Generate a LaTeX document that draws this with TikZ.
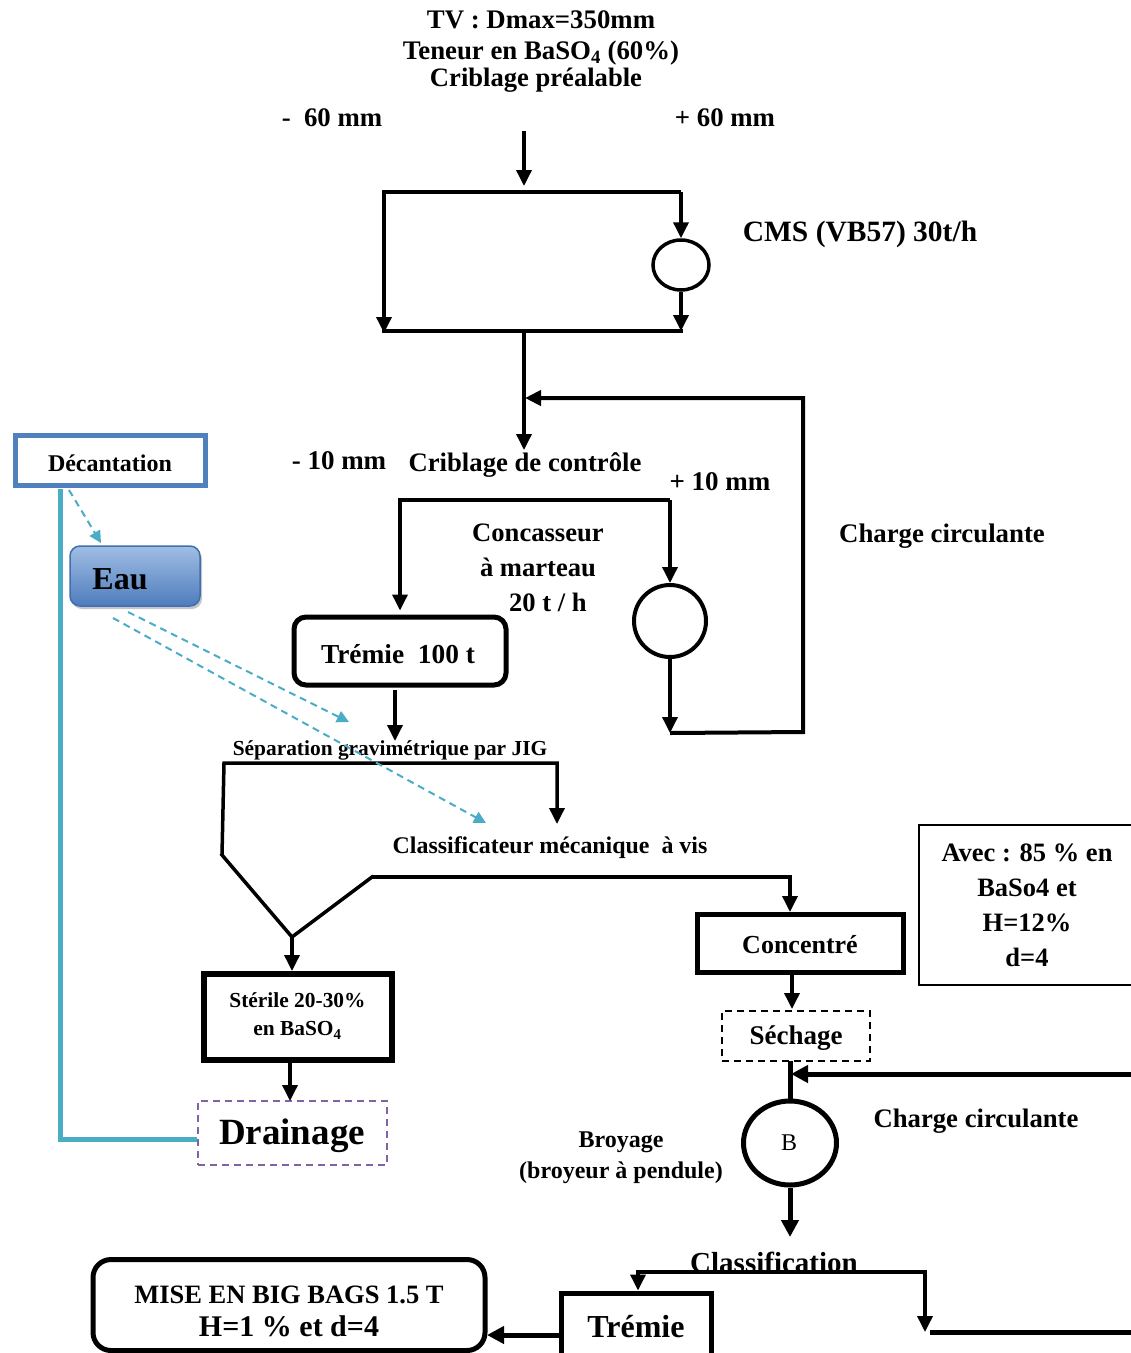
\documentclass[tikz,border=0pt]{standalone}
\usepackage{fontspec}
\setmainfont{Liberation Serif}
\usetikzlibrary{arrows.meta,shapes.geometric,shadows}
\definecolor{tealline}{RGB}{75,172,198}
\definecolor{decblue}{RGB}{79,129,189}
\definecolor{eautop}{RGB}{160,190,228}
\definecolor{eaubot}{RGB}{78,124,188}
\definecolor{eauedge}{RGB}{65,110,175}
\definecolor{drainpurple}{RGB}{128,100,162}

\tikzset{
  txt/.style={font=\bfseries\fontsize{#1}{#1}\selectfont, inner sep=0pt},
  mtxt/.style 2 args={font=\bfseries\fontsize{#1}{#2}\selectfont, inner sep=0pt, align=center},
  flow/.style={line width=3.5pt, line join=miter, -{Triangle[length=16pt,width=15pt]}},
  bigflow/.style={line width=5pt, line join=miter, -{Triangle[length=17pt,width=17pt]}},
  plain/.style={line width=3.5pt, line join=miter, line cap=rect},
  boxthick/.style={draw, line width=5pt, inner sep=0pt},
  water/.style={draw=tealline, line width=2pt, dash pattern=on 7pt off 5pt,
    -{Triangle[length=12pt,width=12pt]}},
}

\begin{document}
\begin{tikzpicture}[x=1pt,y=-1pt]
\useasboundingbox (0,0) rectangle (1131,1353);

% ---- header ----
\node[txt=26.8] (tv)   at (541,20)  {TV : Dmax=350mm};
\node[txt=26.8] (ten)  at (541,53)  {Teneur en BaSO\textsubscript{4} (60\%)};
\node[txt=26.6] (crib) at (536,80)  {Criblage préalable};
\node[txt=26.8] (m60)  at (332,118) {-\ \ 60 mm};
\node[txt=26.8] (p60)  at (725,118) {+ 60 mm};
\node[txt=29.5] (cmsl) at (860,234) {CMS (VB57) 30t/h};

% ---- pre-screening ----
\coordinate (in0) at (524,131);
\coordinate (in1) at (524,186);
\coordinate (a1) at (384,192);
\coordinate (a2) at (681,192);
\coordinate (b1) at (384,333);
\coordinate (b2) at (681,331);
\coordinate (b1r) at (384,331);
\node[draw, ellipse, line width=3.5pt, minimum width=56pt, minimum height=50pt, inner sep=0pt] (cms) at (681,265) {};
\draw[flow] (in0) -- (in1);
\draw[flow] (a2) -- (a1) -- (b1);
\draw[flow] (a2) -- (cms.north);
\draw[flow] (cms.south) -- (b2);
\draw[plain] (b1r) -- (b2);

% ---- control screening ----
\coordinate (c1) at (524,331);
\coordinate (c2) at (524,450);
\draw[flow] (c1) -- (c2);
\node[txt=27] (m10)  at (339,461) {- 10 mm};
\node[txt=26.7] (ctrl) at (525,465) {Criblage de contrôle};
\node[txt=27] (p10)  at (720,482) {+ 10 mm};
\node[mtxt={26.6}{35}] (conc) at (538,568) {Concasseur\\à marteau\\\ \ \ 20 t / h};
\node[txt=26.8] (cc1)  at (942,536) {Charge circulante};

\coordinate (s1) at (400,500);
\coordinate (s2) at (670,500);
\node[draw, circle, line width=4pt, minimum size=72pt, inner sep=0pt] (crush) at (670,621) {};
\coordinate (l1) at (670,733);
\coordinate (l2) at (803,732);
\coordinate (l3) at (803,398);
\coordinate (l4) at (525,398);
\draw[flow] (crush.south) -- (l1);
\draw[plain, line width=4pt, -{Triangle[length=16pt,width=15pt]}, line cap=butt] (l1) -- (l2) -- (l3) -- (l4);

\node[boxthick, rounded corners=12pt, minimum width=212pt, minimum height=68pt] (trem) at (400,651) {};
\node[txt=27.4] (tremt) at (398,654) {Trémie\ \ 100 t};
\draw[flow] (s2) -- (s1) -- ([yshift=4pt]trem.north);
\draw[flow] (s2) -- (crush.north);

% ---- water circuit ----
\node[draw=decblue, line width=5pt, minimum width=190pt, minimum height=50pt, inner sep=0pt] (dec) at (110.5,460.5) {};
\node[txt=24] (dect) at (110,463) {Décantation};
\node[draw=eauedge, line width=1.5pt, rounded corners=10pt, top color=eautop, bottom color=eaubot,
      minimum width=130pt, minimum height=60pt, inner sep=0pt,
      drop shadow={opacity=0.45, shadow xshift=2pt, shadow yshift=-3pt}] (eau) at (135,576) {};
\node[txt=32] (eaut) at (120,579) {Eau};

% ---- jig ----
\coordinate (t0) at (395,690);
\coordinate (t1) at (395,741);
\draw[flow] (t0) -- (t1);
\node[txt=21.4] (jigt) at (390,750) {Séparation gravimétrique par JIG};
\coordinate (j1) at (224,763);
\coordinate (j2) at (557,763);
\coordinate (j3) at (557,824);
\coordinate (j4) at (222,855);
\coordinate (j5) at (292,937);
\coordinate (j6) at (372,877);
\coordinate (j7) at (790,877);
\draw[flow] (j4) -- (j1) -- (j2) -- (j3);
\draw[plain] (j4) -- (j5) -- (j6);
\node[txt=23.9] (clas) at (550,848) {Classificateur mécanique\ \ à vis};

\node[boxthick, minimum width=206pt, minimum height=58pt] (concbox) at (800,943.5) {};
\node[txt=26] (conct) at (800,945) {Concentré};
\draw[flow] (j6) -- (j7) -- (j7 |- concbox.north);

\node[draw, line width=1.5pt, minimum width=222pt, minimum height=160pt, inner sep=0pt] (avec) at (1030,905) {};
\node[mtxt={26.5}{35}] (avect) at (1027,905) {Avec : 85 \% en\\BaSo4 et\\H=12\%\\d=4};

\node[boxthick, line width=6pt, minimum width=188pt, minimum height=86pt] (ster) at (297.5,1017) {};
\node[mtxt={21.4}{28}] (stert) at (297.5,1016) {Stérile 20-30\%\\en BaSO\textsubscript{4}};
\coordinate (j5b) at (292,971);
\draw[flow] (j5) -- (j5b);

\node[draw=drainpurple, line width=2pt, dash pattern=on 7pt off 5pt, minimum width=189pt, minimum height=64pt, inner sep=0pt] (drain) at (292.5,1133) {};
\node[txt=37] (draint) at (292,1136) {Drainage};
\coordinate (d0) at (290,1062);
\coordinate (d1) at (290,1101);
\draw[flow] (d0) -- (d1);

% water lines
\coordinate (w0) at (60,489);
\coordinate (w1) at (60,1139);
\draw[tealline, line width=5pt] (w0) -- (w1) -- (w1 -| drain.west);
\coordinate (wd0) at (69,490);
\coordinate (wd1) at (101,543);
\draw[water] (wd0) -- (wd1);
\coordinate (we0) at (128,612);
\coordinate (we1) at (349,722);
\coordinate (we2) at (113,618);
\coordinate (we3) at (486,823);
\draw[water] (we0) -- (we1);
\draw[water] (we2) -- (we3);

% ---- drying and grinding ----
\coordinate (k0) at (792,973);
\coordinate (k1) at (792,1009);
\draw[flow] (k0) -- (k1);
\node[draw, line width=2pt, dash pattern=on 7pt off 5pt, minimum width=148pt, minimum height=50pt, inner sep=0pt] (sech) at (796,1036) {};
\node[txt=27] (secht) at (796,1038) {Séchage};

\node[draw, ellipse, line width=5pt, minimum width=93pt, minimum height=84pt, inner sep=0pt] (broy) at (790,1143) {};
\node[font=\fontsize{24}{24}\selectfont, inner sep=0pt] (broyt) at (789,1143) {B};
\coordinate (g0) at (790,1061);
\draw[line width=5pt] (g0) -- (broy.north);
\coordinate (r0) at (1131,1074);
\coordinate (r1) at (791,1074);
\draw[bigflow] (r0) -- (r1);
\node[txt=26.7] (cc2) at (976,1121) {Charge circulante};
\node[mtxt={24}{31}] (broyl) at (621,1158) {Broyage\\(broyeur à pendule)};
\coordinate (g1) at (790,1237);
\draw[bigflow] (broy.south) -- (g1);

% ---- classification and bagging ----
\node[txt=29] (clast) at (774,1262) {Classification};
\node[boxthick, minimum width=150pt, minimum height=72pt] (trem2) at (636.5,1329) {};
\node[txt=32] (trem2t) at (636,1327) {Trémie};
\coordinate (cl1) at (638,1272);
\coordinate (cl2) at (925,1272);
\coordinate (cl3) at (925,1332);
\coordinate (cl4) at (930,1332);
\coordinate (cl5) at (1131,1332);
\draw[flow] (cl2) -- (cl1) -- (cl1 |- trem2.north);
\draw[flow] (cl1) -- (cl2) -- (cl3);
\draw[line width=5pt] (cl4) -- (cl5);

\node[boxthick, rounded corners=18pt, minimum width=392pt, minimum height=91pt] (bags) at (289,1305) {};
\node[mtxt={26.5}{33}] (bagst) at (289,1311) {MISE EN BIG BAGS 1.5 T\\\fontsize{30}{33}\selectfont H=1 \% et d=4};
\coordinate (tb0) at (561,1335);
\coordinate (tb1) at (487,1335);
\draw[bigflow] (tb0) -- (tb1);

\end{tikzpicture}
\end{document}
